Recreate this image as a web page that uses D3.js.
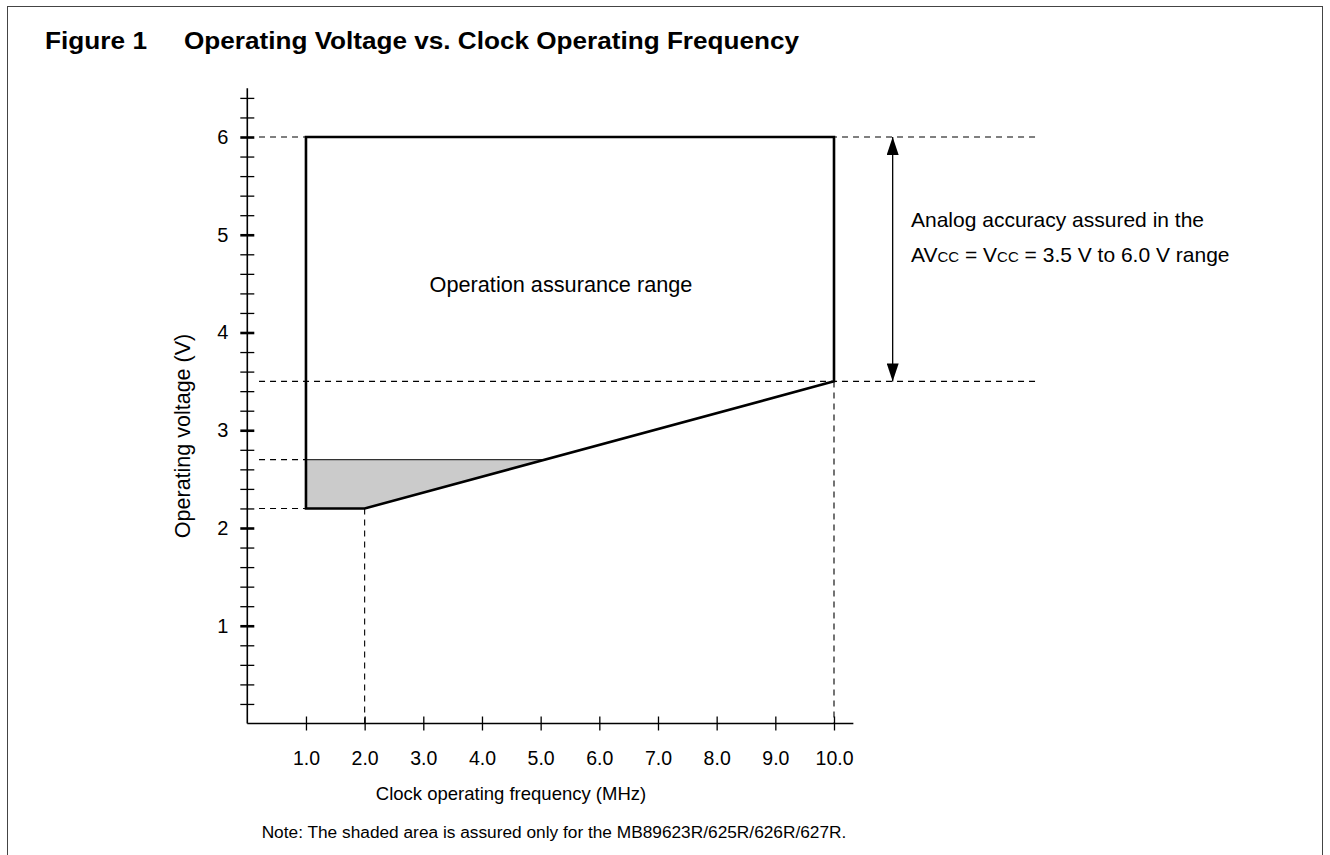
<!DOCTYPE html>
<html lang="en">
  <head>
    <meta charset="utf-8">
    <title>Operating Voltage vs. Clock Operating Frequency</title>
    <script src="https://cdn.jsdelivr.net/npm/d3@7"></script>
    <style>
      body { margin: 0; background: #fff; }
      text { font-family: 'Liberation Sans', Arial, Helvetica, sans-serif; fill: #000; }
    </style>
  </head>

  <body>
    <div id="chart"></div>

    <script type="text/javascript">
      // axis ticks and labels
      let freqTicks = [1, 2, 3, 4, 5, 6, 7, 8, 9, 10]
      let freqTickLabels = ['1.0', '2.0', '3.0', '4.0', '5.0', '6.0', '7.0', '8.0', '9.0', '10.0']
      let voltTicks = [1, 2, 3, 4, 5, 6]
      let voltTickLabels = ['1', '2', '3', '4', '5', '6']

      // operation assurance region outline (MHz, V)
      let regionFreq = [1, 10, 10, 2, 1]
      let regionVolt = [6, 6, 3.5, 2.2, 2.2]

      // shaded region (MB89623R/625R/626R/627R only)
      let shadedFreq = [1, 2, 5.08, 1]
      let shadedVolt = [2.2, 2.2, 2.7, 2.7]

      // dashed guide lines
      let guideVolt = [6, 3.5, 2.7, 2.2]
      let guideFreq = [2, 10]

      // analog accuracy range (V)
      let analogRange = [3.5, 6.0]

      let width = 1330
      let height = 855

      let svg = d3.select('#chart').append('svg')
        .attr('width', width)
        .attr('height', height)

      // frame
      svg.append('rect')
        .attr('x', 7.5).attr('y', 6.5)
        .attr('width', 1315).attr('height', 860)
        .attr('fill', 'none')
        .attr('stroke', '#444')
        .attr('stroke-width', 1)

      // title (the original face is wider than Arial, so stretch it a bit)
      svg.append('text')
        .attr('x', 45).attr('y', 49)
        .attr('font-size', '23px').attr('font-weight', 'bold')
        .attr('textLength', 102).attr('lengthAdjust', 'spacingAndGlyphs')
        .text('Figure 1')
      svg.append('text')
        .attr('x', 184).attr('y', 49)
        .attr('font-size', '23px').attr('font-weight', 'bold')
        .attr('textLength', 615).attr('lengthAdjust', 'spacingAndGlyphs')
        .text('Operating Voltage vs. Clock Operating Frequency')

      let x = d3.scaleLinear().domain([0, 10]).range([247.3, 834])
      let y = d3.scaleLinear().domain([0, 6]).range([723.5, 137])

      // dashed guides
      let guides = svg.append('g')
        .attr('stroke', '#000')
        .attr('stroke-width', 1.1)
        .attr('stroke-dasharray', '6,5')
        .attr('fill', 'none')

      let guideSpans = {6: [0.2, 13.5], 3.5: [0.2, 13.5], 2.7: [0.2, 1], 2.2: [0.2, 1]}
      guides.selectAll('line.h')
        .data(guideVolt)
        .enter()
        .append('line')
        .attr('class', 'h')
        .attr('x1', (d) => x(guideSpans[d][0]))
        .attr('x2', (d) => x(guideSpans[d][1]))
        .attr('y1', (d) => y(d))
        .attr('y2', (d) => y(d))

      let vStart = {2: 2.2, 10: 3.5}
      guides.selectAll('line.v')
        .data(guideFreq)
        .enter()
        .append('line')
        .attr('class', 'v')
        .attr('x1', (d) => x(d))
        .attr('x2', (d) => x(d))
        .attr('y1', (d) => y(vStart[d]))
        .attr('y2', y(0))

      // shaded area
      let shadedPts = shadedFreq.map((f, i) => [x(f), y(shadedVolt[i])])
      svg.append('polygon')
        .attr('points', shadedPts.map((p) => p.join(',')).join(' '))
        .attr('fill', '#cbcbcb')
        .attr('stroke', 'none')
      svg.append('line')
        .attr('x1', x(shadedFreq[3])).attr('x2', x(shadedFreq[2]))
        .attr('y1', y(shadedVolt[2])).attr('y2', y(shadedVolt[2]))
        .attr('stroke', '#333')
        .attr('stroke-width', 1.2)

      // operation assurance region
      let regionPts = regionFreq.map((f, i) => [x(f), y(regionVolt[i])])
      svg.append('polygon')
        .attr('points', regionPts.map((p) => p.join(',')).join(' '))
        .attr('fill', 'none')
        .attr('stroke', '#000')
        .attr('stroke-width', 2.6)
        .attr('stroke-linejoin', 'miter')

      svg.append('text')
        .attr('x', 561).attr('y', 292)
        .attr('text-anchor', 'middle')
        .attr('font-size', '21.7px')
        .text('Operation assurance range')

      // x axis
      let xAxis = d3.axisBottom(x)
        .tickValues(freqTicks)
        .tickFormat((d, i) => freqTickLabels[i])
        .tickSize(7)
        .tickPadding(21)
      let gx = svg.append('g')
        .attr('transform', `translate(0,${y(0)})`)
        .call(xAxis)
      gx.select('.domain').remove()
      gx.selectAll('.tick line').attr('y1', -7).attr('y2', 7).attr('stroke', '#000').attr('stroke-width', 1.3)
      gx.selectAll('.tick text')
        .attr('font-size', '19.5px')
        .attr('font-family', "'Liberation Sans', Arial, Helvetica, sans-serif")
        .attr('fill', '#000')
      svg.append('line')
        .attr('x1', x(0)).attr('x2', x(10.33))
        .attr('y1', y(0)).attr('y2', y(0))
        .attr('stroke', '#000').attr('stroke-width', 1.6)

      // y axis
      let yMinor = d3.range(1, 33).map((i) => +(i * 0.2).toFixed(1))
      let yAxis = d3.axisLeft(y)
        .tickValues(yMinor)
        .tickFormat((d) => {
          let k = voltTicks.indexOf(d)
          return k >= 0 ? voltTickLabels[k] : ''
        })
        .tickSize(7)
        .tickPadding(12)
      let gy = svg.append('g')
        .attr('transform', `translate(${x(0)},0)`)
        .call(yAxis)
      gy.select('.domain').remove()
      gy.selectAll('.tick line')
        .attr('x1', -7).attr('x2', 7)
        .attr('stroke', '#000')
        .attr('stroke-width', (d) => voltTicks.includes(d) ? 2.6 : 1.3)
      gy.selectAll('.tick text')
        .attr('font-size', '20px')
        .attr('font-family', "'Liberation Sans', Arial, Helvetica, sans-serif")
        .attr('fill', '#000')
      svg.append('line')
        .attr('x1', x(0)).attr('x2', x(0))
        .attr('y1', y(0)).attr('y2', y(6.5))
        .attr('stroke', '#000').attr('stroke-width', 1.6)

      // axis titles
      svg.append('text')
        .attr('transform', 'translate(190,436) rotate(-90)')
        .attr('text-anchor', 'middle')
        .attr('font-size', '21.5px')
        .text('Operating voltage (V)')
      svg.append('text')
        .attr('x', 511).attr('y', 800)
        .attr('text-anchor', 'middle')
        .attr('font-size', '18.5px')
        .text('Clock operating frequency (MHz)')

      // analog accuracy arrow
      svg.append('defs').append('marker')
        .attr('id', 'arrow')
        .attr('viewBox', '0 0 18 12')
        .attr('refX', 18).attr('refY', 6)
        .attr('markerUnits', 'userSpaceOnUse')
        .attr('markerWidth', 18).attr('markerHeight', 12)
        .attr('orient', 'auto-start-reverse')
        .append('path')
        .attr('d', 'M0,0 L18,6 L0,12 Z')
        .attr('fill', '#000')

      let arrowX = x(11)
      svg.append('line')
        .attr('x1', arrowX).attr('x2', arrowX)
        .attr('y1', y(analogRange[0])).attr('y2', y(analogRange[1]))
        .attr('stroke', '#000').attr('stroke-width', 1.3)
        .attr('marker-start', 'url(#arrow)')
        .attr('marker-end', 'url(#arrow)')

      let note = svg.append('g').attr('font-size', '21px')
      note.append('text')
        .attr('x', 911).attr('y', 227)
        .text('Analog accuracy assured in the')
      let line2 = note.append('text')
        .attr('x', 911).attr('y', 261.5)
      line2.append('tspan').text('AV')
      line2.append('tspan').attr('font-size', '15px').text('CC')
      line2.append('tspan').text(' = V')
      line2.append('tspan').attr('font-size', '15px').text('CC')
      line2.append('tspan').text(` = ${analogRange[0].toFixed(1)} V to ${analogRange[1].toFixed(1)} V range`)

      // footnote
      svg.append('text')
        .attr('x', 554).attr('y', 838)
        .attr('text-anchor', 'middle')
        .attr('font-size', '17.3px')
        .text('Note: The shaded area is assured only for the MB89623R/625R/626R/627R.')
    </script>
  </body>
</html>
